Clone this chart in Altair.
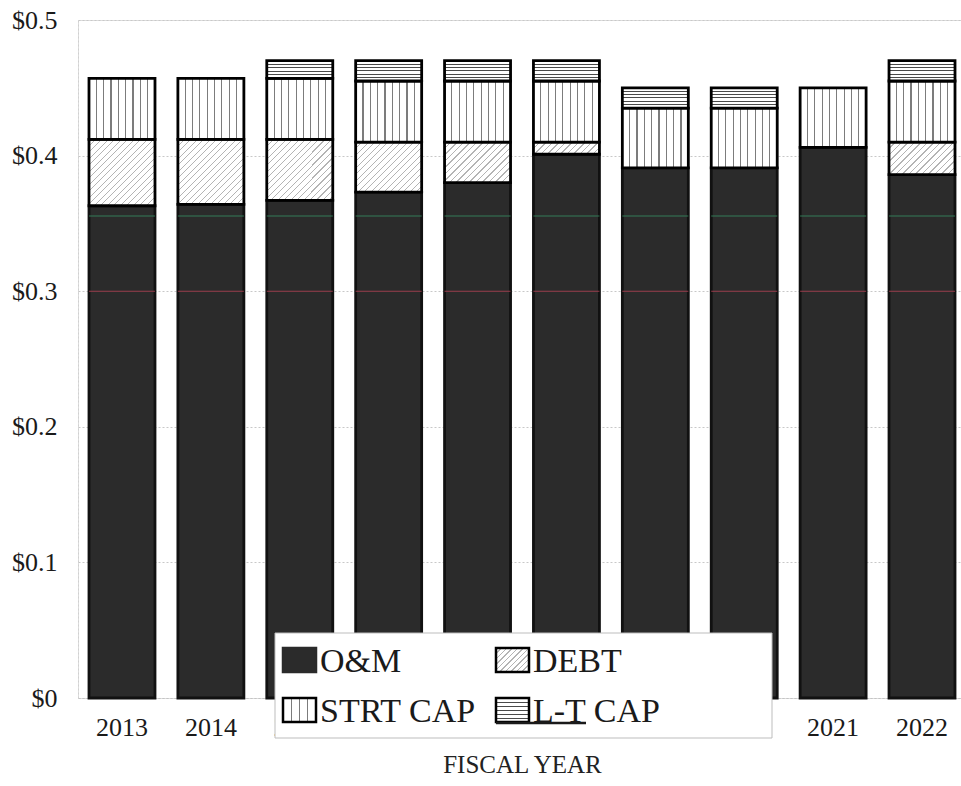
import altair as alt
import pandas as pd

# Cost per unit by fiscal year, split into four components
years = ["2013", "2014", "2015", "2016", "2017", "2018", "2019", "2020", "2021", "2022"]
om = [0.363, 0.364, 0.367, 0.373, 0.380, 0.401, 0.391, 0.391, 0.406, 0.386]
debt = [0.049, 0.048, 0.045, 0.037, 0.030, 0.009, 0.0, 0.0, 0.0, 0.024]
strt_cap = [0.045, 0.045, 0.045, 0.045, 0.045, 0.045, 0.044, 0.044, 0.044, 0.045]
lt_cap = [0.0, 0.0, 0.013, 0.015, 0.015, 0.015, 0.015, 0.015, 0.0, 0.015]

series_names = ["O&M", "DEBT", "STRT CAP", "L-T CAP"]
y_ticks = [0, 0.1, 0.2, 0.3, 0.4, 0.5]

# faint coloured lines that cross the O&M fill
streak_values = [0.300, 0.3555]
streak_colors = ["#c0455a", "#3a9a6a"]

PLOT_W, PLOT_H = 883, 678
Y_MAX = 0.5
PX_PER_UNIT = PLOT_H / Y_MAX
BAR_W = 66
FONT = "Liberation Serif"
DARK = "#2b2b2b"

# stack the components
rows = []
for i, yr in enumerate(years):
    base = 0.0
    for name, vals in zip(series_names, [om, debt, strt_cap, lt_cap]):
        v = vals[i]
        rows.append({"year": yr, "series": name, "y0": base, "y1": base + v, "v": v})
        base += v
stack = pd.DataFrame(rows)
stack = stack[stack["v"] > 0]


def stripe_stops(positions, half, line, bg="white"):
    stops = [{"offset": 0, "color": bg}]
    last = 0.0
    for p in positions:
        a, b = max(p - half, last), min(p + half, 1.0)
        if a >= b:
            continue
        stops += [{"offset": a, "color": bg}, {"offset": a, "color": line},
                  {"offset": b, "color": line}, {"offset": b, "color": bg}]
        last = b
    stops.append({"offset": 1, "color": bg})
    return stops


def diag_fill(w, h, period=6.5, line="#b4b4b4"):
    # "/" hatching at 45 degrees inside a w x h box
    s = w + h
    vx = s * w / (w * w + h * h)
    vy = s * h / (w * w + h * h)
    step = period / s
    pos, k = [], 1
    while k * step < 1:
        pos.append(k * step)
        k += 1
    return {"gradient": "linear", "x1": 0, "y1": 0, "x2": vx, "y2": vy,
            "stops": stripe_stops(pos, 0.6 / s, line)}


def vert_fill(w, n=9, line="#7c7c7c"):
    pos = [k / n for k in range(1, n)]
    return {"gradient": "linear", "x1": 0, "y1": 0, "x2": 1, "y2": 0,
            "stops": stripe_stops(pos, 0.55 / w, line)}


def horiz_fill(h, spacing=3.5, line="#4a4a4a"):
    n = max(2, round(h / spacing))
    pos = [k / n for k in range(1, n)]
    return {"gradient": "linear", "x1": 0, "y1": 0, "x2": 0, "y2": 1,
            "stops": stripe_stops(pos, 0.5 / h, line)}


x_enc = alt.X(
    "year:N",
    scale=alt.Scale(domain=years, range=[0, 888], paddingInner=0.2576, paddingOuter=0.1237),
    axis=alt.Axis(title="FISCAL YEAR", labelAngle=0, labelFont=FONT, labelFontSize=26,
                  labelColor="#1a1a1a", labelPadding=16, ticks=False,
                  domainColor="#c4c4c4", domainDash=[2, 2], domainWidth=1,
                  titleFont=FONT, titleFontSize=25, titleFontWeight="normal",
                  titleColor="#222222", titlePadding=12, zindex=0),
)
y_enc = alt.Y(
    "y0:Q",
    scale=alt.Scale(domain=[0, Y_MAX], nice=False),
    axis=alt.Axis(title=None, values=y_ticks, ticks=False, labelFont=FONT, labelFontSize=26,
                  labelColor="#1a1a1a", labelPadding=21,
                  labelExpr="datum.value == 0 ? '$0' : '$' + format(datum.value, '.1f')",
                  grid=True, gridColor="#c8c8c8", gridDash=[2, 2], gridWidth=1,
                  domainColor="#d0d0d0", domainDash=[2, 2], domainWidth=1, zindex=0),
)
y2_enc = alt.Y2("y1:Q")

layers = []

# O&M: solid dark blocks
layers.append(
    alt.Chart(stack[stack["series"] == "O&M"])
    .mark_bar(fill=DARK, stroke="#111111", strokeWidth=2.8)
    .encode(x=x_enc, y=y_enc, y2=y2_enc)
)

# DEBT: diagonal hatching, each block sized individually
for _, r in stack[stack["series"] == "DEBT"].iterrows():
    layers.append(
        alt.Chart(pd.DataFrame([r]))
        .mark_bar(fill=diag_fill(BAR_W, r["v"] * PX_PER_UNIT), stroke="black", strokeWidth=2.8)
        .encode(x=x_enc, y=y_enc, y2=y2_enc)
    )

# STRT CAP: vertical hatching
layers.append(
    alt.Chart(stack[stack["series"] == "STRT CAP"])
    .mark_bar(fill=vert_fill(BAR_W), stroke="black", strokeWidth=2.8)
    .encode(x=x_enc, y=y_enc, y2=y2_enc)
)

# L-T CAP: horizontal hatching
for _, r in stack[stack["series"] == "L-T CAP"].iterrows():
    layers.append(
        alt.Chart(pd.DataFrame([r]))
        .mark_bar(fill=horiz_fill(r["v"] * PX_PER_UNIT), stroke="black", strokeWidth=2.8)
        .encode(x=x_enc, y=y_enc, y2=y2_enc)
    )

# thin coloured streaks across the dark blocks
for val, col in zip(streak_values, streak_colors):
    layers.append(
        alt.Chart(pd.DataFrame({"year": years, "y0": [val] * len(years)}))
        .mark_tick(color=col, thickness=1, size=BAR_W, opacity=0.75)
        .encode(x=x_enc, y=y_enc)
    )

# legend panel, laid over the lower part of the bars
one = pd.DataFrame({"k": [0]})
layers.append(
    alt.Chart(one).mark_rect(fill="white", stroke="#bdbdbd", strokeWidth=1)
    .encode(x=alt.value(197), x2=alt.value(694), y=alt.value(613), y2=alt.value(718))
)

SW_W, SW_H = 33, 24
swatch_cols = [205, 418, 205, 418]
swatch_rows = [628, 628, 678, 678]
swatch_fills = [DARK, diag_fill(SW_W, SW_H, period=5.5), vert_fill(SW_W, n=4),
                horiz_fill(SW_H, spacing=4.0)]
swatch_strokes = ["#2a2a2a", "black", "black", "black"]
for sx, sy, fl, sc in zip(swatch_cols, swatch_rows, swatch_fills, swatch_strokes):
    layers.append(
        alt.Chart(one).mark_rect(fill=fl, stroke=sc, strokeWidth=2.5)
        .encode(x=alt.value(sx), x2=alt.value(sx + SW_W), y=alt.value(sy), y2=alt.value(sy + SW_H))
    )

for name, sx, sy in zip(series_names, swatch_cols, swatch_rows):
    layers.append(
        alt.Chart(pd.DataFrame({"label": [name]}))
        .mark_text(font=FONT, fontSize=34, align="left", baseline="alphabetic", color="#1a1a1a")
        .encode(text="label:N", x=alt.value(sx + 37), y=alt.value(sy + SW_H))
    )

# underline beneath the "L-T" part of the last label
layers.append(
    alt.Chart(one).mark_rule(color="#1a1a1a", strokeWidth=2.5)
    .encode(x=alt.value(418), x2=alt.value(508), y=alt.value(703))
)

chart = (
    alt.layer(*layers)
    .properties(
        width=PLOT_W,
        height=PLOT_H,
        autosize=alt.AutoSizeParams(type="none"),
        padding={"left": 78, "top": 20, "right": 0, "bottom": 88},
    )
    .configure_view(stroke=None)
    .configure(background="white")
)

chart.save("out.html", embed_options={"renderer": "svg", "actions": False})
